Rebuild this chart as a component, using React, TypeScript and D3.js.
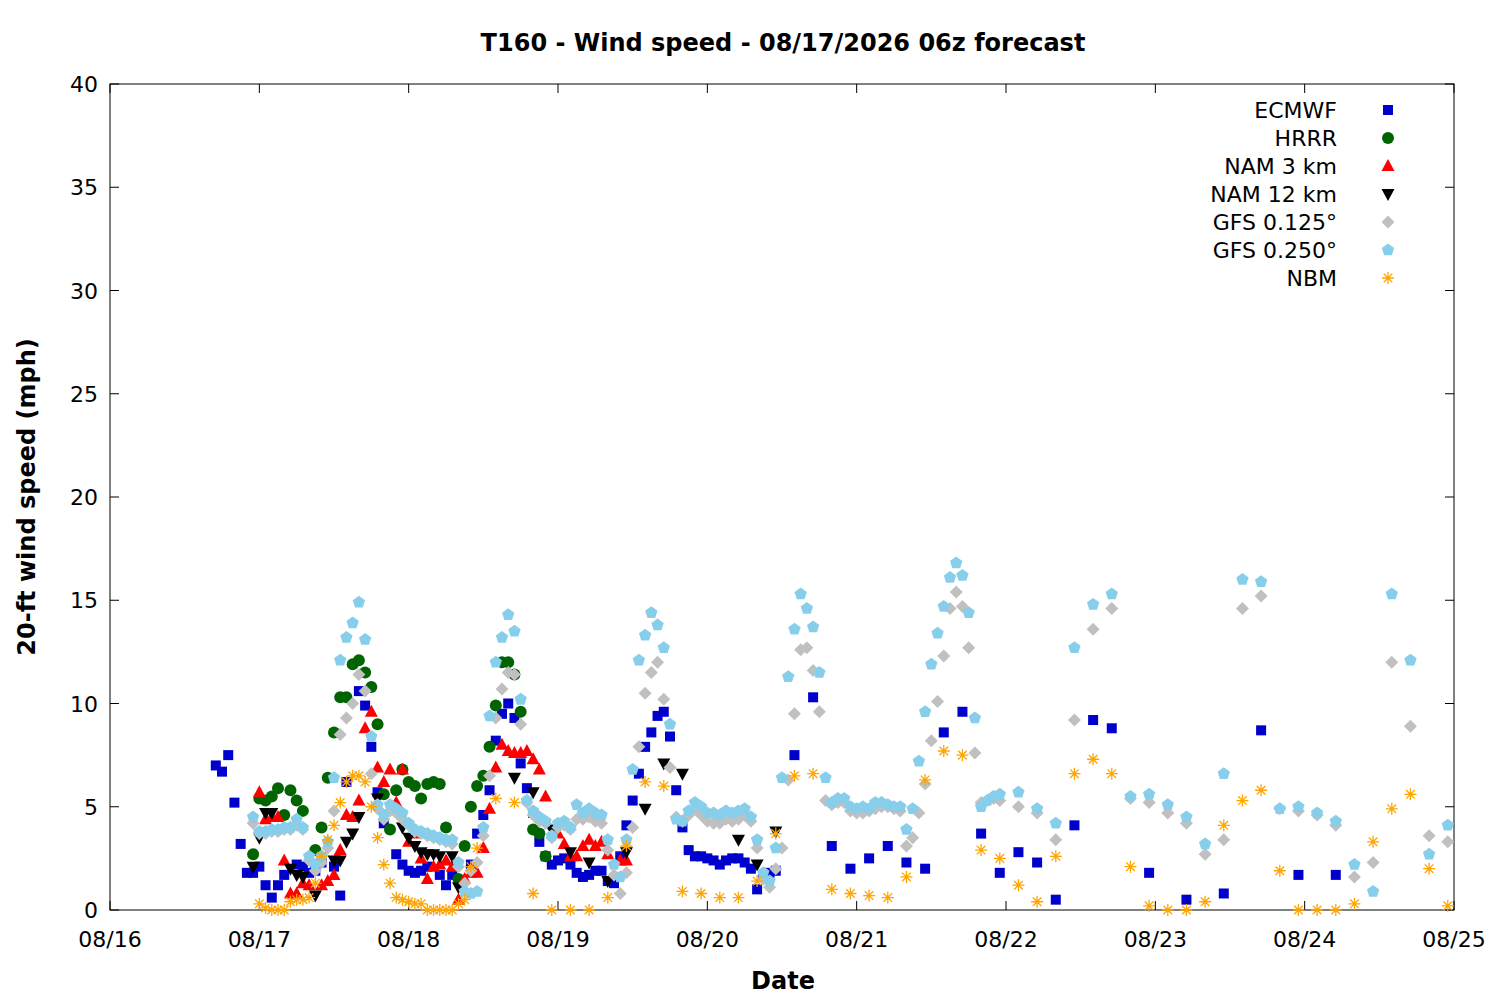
import React, { useEffect, useRef } from 'react';
import * as d3 from 'd3';

// hours since 08/16 00z, wind speed (mph)
const ecmwf: [number, number][] = [
  [17, 7.0], [18, 6.7], [19, 7.5], [20, 5.2], [21, 3.2], [22, 1.8], [23, 1.8], [24, 2.1], [25, 1.2], [26, 0.6],
  [27, 1.2], [28, 1.7], [30, 2.2], [31, 2.1], [32, 1.8], [33, 1.9], [34, 2.3], [36, 2.1], [37, 0.7], [38, 6.2],
  [40, 10.6], [41, 9.9], [42, 7.9], [43, 5.7], [44, 4.2], [46, 2.7], [47, 2.2], [48, 1.9], [49, 1.8], [50, 1.9],
  [51, 2.1], [53, 1.7], [54, 1.2], [55, 1.7], [58, 2.2], [59, 3.7], [60, 4.6], [61, 5.8], [62, 8.2], [63, 9.5],
  [64, 10.0], [65, 9.3], [66, 7.1], [67, 5.9], [68, 4.7], [69, 3.3], [70, 2.6], [71, 2.2], [72, 2.4], [73, 2.5],
  [74, 2.2], [75, 1.8], [76, 1.6], [77, 1.7], [78, 1.9], [79, 1.9], [80, 1.4], [81, 1.3], [82, 2.6], [83, 4.1],
  [84, 5.3], [85, 6.6], [86, 7.9], [87, 8.6], [88, 9.4], [89, 9.6], [90, 8.4], [91, 5.8], [92, 4.0], [93, 2.9],
  [94, 2.6], [95, 2.6], [96, 2.5], [97, 2.4], [98, 2.2], [99, 2.4], [100, 2.5], [101, 2.5], [102, 2.3], [103, 2.0],
  [104, 1.0], [105, 1.7], [106, 1.8], [107, 1.9], [110, 7.5], [113, 10.3], [116, 3.1], [119, 2.0], [122, 2.5],
  [125, 3.1], [128, 2.3], [131, 2.0], [134, 8.6], [137, 9.6], [140, 3.7], [143, 1.8], [146, 2.8], [149, 2.3],
  [152, 0.5], [155, 4.1], [158, 9.2], [161, 8.8], [167, 1.8], [173, 0.5], [179, 0.8], [185, 8.7], [191, 1.7], [197, 1.7],
];

const hrrr: [number, number][] = [
  [23, 2.7], [24, 5.4], [25, 5.3], [26, 5.5], [27, 5.9], [28, 4.6], [29, 5.8], [30, 5.3], [31, 4.8], [33, 2.9],
  [34, 4.0], [35, 6.4], [36, 8.6], [37, 10.3], [38, 10.3], [39, 11.9], [40, 12.1], [41, 11.5], [42, 10.8], [43, 9.0],
  [44, 5.6], [45, 3.9], [46, 5.8], [47, 6.8], [48, 6.2], [49, 6.0], [50, 5.4], [51, 6.1], [52, 6.2], [53, 6.1],
  [54, 4.0], [56, 1.5], [57, 3.1], [58, 5.0], [59, 6.0], [60, 6.5], [61, 7.9], [62, 9.9], [63, 12.0], [64, 12.0],
  [65, 11.4], [66, 9.6], [68, 3.9], [69, 3.7], [70, 2.6],
];

const nam3: [number, number][] = [
  [24, 5.7], [25, 4.4], [26, 4.5], [27, 4.5], [28, 2.4], [29, 0.8], [30, 0.8], [31, 1.3], [32, 1.2], [34, 1.2],
  [35, 1.4], [36, 1.7], [37, 2.9], [38, 4.6], [39, 4.5], [40, 5.3], [41, 8.8], [42, 9.6], [43, 6.9], [44, 6.2],
  [45, 6.8], [46, 5.2], [47, 6.8], [48, 3.3], [49, 3.7], [50, 2.5], [51, 1.5], [52, 2.1], [53, 2.2], [54, 2.4],
  [55, 2.1], [56, 0.5], [57, 1.5], [58, 1.8], [59, 1.8], [60, 3.0], [61, 4.9], [62, 6.9], [63, 8.0], [64, 7.7],
  [65, 7.6], [66, 7.6], [67, 7.7], [68, 7.3], [69, 6.8], [70, 5.5], [72, 3.7], [73, 3.2], [74, 2.6], [75, 2.6],
  [76, 3.1], [77, 3.4], [78, 3.1], [79, 3.3], [80, 2.7], [82, 2.4], [83, 2.4],
];

const nam12: [number, number][] = [
  [23, 2.1], [24, 3.5], [25, 4.7], [26, 4.7], [29, 2.0], [30, 1.7], [31, 1.6], [33, 0.7], [36, 2.4], [37, 2.4],
  [38, 3.3], [39, 3.7], [40, 4.5], [43, 5.4], [44, 4.5], [47, 4.0], [48, 3.5], [49, 3.1], [50, 2.8], [51, 2.7],
  [52, 2.7], [53, 2.6], [55, 2.6], [56, 1.1], [65, 6.4], [68, 5.7], [71, 3.9], [74, 2.8], [77, 2.3], [80, 1.4],
  [83, 2.8], [86, 4.9], [89, 7.1], [92, 6.6], [101, 3.4], [104, 2.2], [107, 3.8],
];

const gfs125: [number, number][] = [
  [23, 4.2], [24, 3.7], [25, 3.7], [26, 3.8], [27, 3.8], [28, 3.9], [29, 3.9], [30, 4.1], [31, 3.9], [32, 2.4],
  [33, 1.9], [34, 2.3], [35, 3.0], [36, 4.8], [37, 8.5], [38, 9.3], [39, 10.0], [40, 11.4], [41, 10.6], [42, 6.6],
  [43, 4.9], [44, 4.4], [45, 4.8], [46, 4.7], [47, 4.4], [48, 4.1], [49, 3.8], [50, 3.7], [51, 3.6], [52, 3.5],
  [53, 3.4], [54, 3.3], [55, 3.2], [56, 2.1], [57, 1.3], [58, 1.9], [59, 2.3], [60, 3.6], [61, 6.5], [62, 9.3],
  [63, 10.7], [64, 11.5], [65, 11.4], [66, 9.0], [67, 5.2], [68, 4.6], [69, 4.3], [70, 4.2], [71, 3.5], [72, 4.0],
  [73, 4.1], [74, 3.9], [75, 4.4], [76, 4.4], [77, 4.5], [78, 4.3], [79, 4.2], [80, 2.9], [81, 1.7], [82, 0.8],
  [83, 1.8], [84, 4.0], [85, 7.9], [86, 10.5], [87, 11.5], [88, 12.0], [89, 10.2], [90, 6.9], [91, 4.5], [92, 4.3],
  [93, 4.6], [94, 4.9], [95, 4.6], [96, 4.3], [97, 4.2], [98, 4.2], [99, 4.4], [100, 4.3], [101, 4.4], [102, 4.6],
  [103, 4.3], [104, 3.0], [105, 1.5], [106, 1.1], [107, 2.0], [108, 3.0], [109, 6.3], [110, 9.5], [111, 12.6],
  [112, 12.7], [113, 11.6], [114, 9.6], [115, 5.3], [116, 5.1], [117, 5.2], [118, 5.2], [119, 4.8], [120, 4.7],
  [121, 4.7], [122, 4.8], [123, 4.9], [124, 5.0], [125, 5.0], [126, 4.9], [127, 4.8], [128, 3.1], [129, 3.5],
  [130, 4.7], [131, 6.1], [132, 8.2], [133, 10.1], [134, 12.3], [135, 14.6], [136, 15.4], [137, 14.7], [138, 12.7],
  [139, 7.6], [140, 5.2], [141, 5.3], [142, 5.4], [143, 5.3], [146, 5.0], [149, 4.7], [152, 3.4], [155, 9.2],
  [158, 13.6], [161, 14.6], [164, 5.4], [167, 5.2], [170, 4.7], [173, 4.2], [176, 2.7], [179, 3.4], [182, 14.6],
  [185, 15.2], [188, 4.9], [191, 4.8], [194, 4.6], [197, 4.1], [200, 1.6], [203, 2.3], [206, 12.0], [209, 8.9],
  [212, 3.6], [215, 3.3],
];

const gfs250: [number, number][] = [
  [23, 4.5], [24, 3.8], [25, 3.8], [26, 3.9], [27, 3.9], [28, 4.0], [29, 4.0], [30, 4.4], [31, 4.0], [32, 2.6],
  [33, 2.2], [34, 2.6], [35, 3.3], [36, 6.4], [37, 12.1], [38, 13.2], [39, 13.9], [40, 14.9], [41, 13.1], [42, 8.4],
  [43, 5.1], [44, 4.6], [45, 5.1], [46, 4.9], [47, 4.7], [48, 4.2], [49, 3.9], [50, 3.8], [51, 3.7], [52, 3.6],
  [53, 3.5], [54, 3.4], [55, 3.4], [56, 2.3], [57, 0.9], [58, 0.8], [59, 0.9], [60, 4.0], [61, 9.4], [62, 12.0],
  [63, 13.2], [64, 14.3], [65, 13.5], [66, 10.2], [67, 5.3], [68, 4.8], [69, 4.5], [70, 4.3], [71, 3.6], [72, 4.2],
  [73, 4.3], [74, 4.0], [75, 5.1], [76, 4.7], [77, 4.9], [78, 4.7], [79, 4.6], [80, 3.4], [81, 2.2], [82, 1.6],
  [83, 3.4], [84, 6.8], [85, 12.1], [86, 13.3], [87, 14.4], [88, 13.8], [89, 12.7], [90, 9.0], [91, 4.4], [92, 4.3],
  [93, 4.8], [94, 5.2], [95, 5.0], [96, 4.7], [97, 4.7], [98, 4.6], [99, 4.8], [100, 4.7], [101, 4.8], [102, 4.9],
  [103, 4.5], [104, 3.4], [105, 1.8], [106, 1.4], [107, 3.0], [108, 6.4], [109, 11.3], [110, 13.6], [111, 15.3],
  [112, 14.6], [113, 13.7], [114, 11.5], [115, 6.4], [116, 5.2], [117, 5.4], [118, 5.4], [119, 5.0], [120, 4.9],
  [121, 5.0], [122, 4.9], [123, 5.2], [124, 5.2], [125, 5.1], [126, 5.0], [127, 5.0], [128, 3.9], [129, 4.9],
  [130, 7.2], [131, 9.6], [132, 11.9], [133, 13.4], [134, 14.7], [135, 16.1], [136, 16.8], [137, 16.2], [138, 14.4],
  [139, 9.3], [140, 5.0], [141, 5.3], [142, 5.5], [143, 5.6], [146, 5.7], [149, 4.9], [152, 4.2], [155, 12.7],
  [158, 14.8], [161, 15.3], [164, 5.5], [167, 5.6], [170, 5.1], [173, 4.5], [176, 3.2], [179, 6.6], [182, 16.0],
  [185, 15.9], [188, 4.9], [191, 5.0], [194, 4.7], [197, 4.3], [200, 2.2], [203, 0.9], [206, 15.3], [209, 12.1],
  [212, 2.7], [215, 4.1],
];

const nbm: [number, number][] = [
  [24, 0.3], [25, 0.1], [26, 0.0], [27, 0.0], [28, 0.0], [29, 0.4], [30, 0.5], [31, 0.5], [32, 0.6], [33, 1.3],
  [34, 2.6], [35, 3.4], [36, 4.1], [37, 5.2], [38, 6.2], [39, 6.5], [40, 6.5], [41, 6.2], [42, 5.0], [43, 3.5],
  [44, 2.2], [45, 1.3], [46, 0.6], [47, 0.5], [48, 0.4], [49, 0.3], [50, 0.3], [51, 0.0], [52, 0.0], [53, 0.0],
  [54, 0.0], [55, 0.0], [56, 0.3], [57, 0.5], [58, 2.1], [59, 3.0], [62, 5.4], [65, 5.2], [68, 0.8], [71, 0.0],
  [74, 0.0], [77, 0.0], [80, 0.6], [83, 3.1], [86, 6.2], [89, 6.0], [92, 0.9], [95, 0.8], [98, 0.6], [101, 0.6],
  [104, 1.4], [107, 3.7], [110, 6.5], [113, 6.6], [116, 1.0], [119, 0.8], [122, 0.7], [125, 0.6], [128, 1.6],
  [131, 6.3], [134, 7.7], [137, 7.5], [140, 2.9], [143, 2.5], [146, 1.2], [149, 0.4], [152, 2.6], [155, 6.6],
  [158, 7.3], [161, 6.6], [164, 2.1], [167, 0.2], [170, 0.0], [173, 0.0], [176, 0.4], [179, 4.1], [182, 5.3],
  [185, 5.8], [188, 1.9], [191, 0.0], [194, 0.0], [197, 0.0], [200, 0.3], [203, 3.3], [206, 4.9], [209, 5.6],
  [212, 2.0], [215, 0.2],
];

const dayLabels = ['08/16', '08/17', '08/18', '08/19', '08/20', '08/21', '08/22', '08/23', '08/24', '08/25'];
const yTicks = [0, 5, 10, 15, 20, 25, 30, 35, 40];

type Kind = 'square' | 'circle' | 'up' | 'down' | 'diamond' | 'pentagon' | 'star';
const seriesList: { name: string; data: [number, number][]; color: string; kind: Kind }[] = [
  { name: 'ECMWF', data: ecmwf, color: '#0000cc', kind: 'square' },
  { name: 'HRRR', data: hrrr, color: '#006400', kind: 'circle' },
  { name: 'NAM 3 km', data: nam3, color: '#ff0000', kind: 'up' },
  { name: 'NAM 12 km', data: nam12, color: '#000000', kind: 'down' },
  { name: 'GFS 0.125°', data: gfs125, color: '#c0c0c0', kind: 'diamond' },
  { name: 'GFS 0.250°', data: gfs250, color: '#87ceeb', kind: 'pentagon' },
  { name: 'NBM', data: nbm, color: '#ffa500', kind: 'star' },
];

function pentagon(r: number) {
  const pts = d3.range(5).map((i) => {
    const a = -Math.PI / 2 + (i * 2 * Math.PI) / 5;
    return [r * Math.cos(a), r * Math.sin(a)];
  });
  return 'M' + pts.map((p) => p.join(',')).join('L') + 'Z';
}

function drawMark(g: d3.Selection<SVGGElement, unknown, null, undefined>, kind: Kind, color: string, x: number, y: number) {
  const t = `translate(${x},${y})`;
  if (kind === 'square') g.append('rect').attr('x', x - 5).attr('y', y - 5).attr('width', 10).attr('height', 10).attr('fill', color);
  else if (kind === 'circle') g.append('circle').attr('cx', x).attr('cy', y).attr('r', 6).attr('fill', color);
  else if (kind === 'up') g.append('path').attr('d', 'M0,-7L6.5,5L-6.5,5Z').attr('transform', t).attr('fill', color);
  else if (kind === 'down') g.append('path').attr('d', 'M0,7L6.5,-5L-6.5,-5Z').attr('transform', t).attr('fill', color);
  else if (kind === 'diamond') g.append('path').attr('d', 'M0,-6.5L6.5,0L0,6.5L-6.5,0Z').attr('transform', t).attr('fill', color);
  else if (kind === 'pentagon') g.append('path').attr('d', pentagon(6.5)).attr('transform', t).attr('fill', color);
  else
    g.append('path')
      .attr('d', 'M-6,0H6M0,-6V6M-4.3,-4.3L4.3,4.3M-4.3,4.3L4.3,-4.3')
      .attr('transform', t)
      .attr('stroke', color)
      .attr('stroke-width', 1.3)
      .attr('fill', 'none');
}

export default function App() {
  const svgRef = useRef<SVGSVGElement | null>(null);

  useEffect(() => {
    if (!svgRef.current) return;
    const svg = d3.select(svgRef.current);
    svg.selectAll('*').remove();

    const left = 110, right = 1454, top = 84, bottom = 910;
    const x = d3.scaleLinear().domain([0, 216]).range([left, right]);
    const y = d3.scaleLinear().domain([0, 40]).range([bottom, top]);
    const font = 'DejaVu Sans, sans-serif';

    svg.append('rect').attr('width', 1500).attr('height', 1000).attr('fill', '#fff');

    const axes = svg.append('g').attr('stroke', '#000').attr('stroke-width', 1);
    yTicks.forEach((v) => {
      axes.append('line').attr('x1', left).attr('x2', left + 9).attr('y1', y(v)).attr('y2', y(v));
      axes.append('line').attr('x1', right).attr('x2', right - 9).attr('y1', y(v)).attr('y2', y(v));
      svg.append('text').attr('x', left - 12).attr('y', y(v) + 8).attr('text-anchor', 'end')
        .attr('font-family', font).attr('font-size', 22).text(v);
    });
    dayLabels.forEach((lab, i) => {
      const px = x(i * 24);
      axes.append('line').attr('x1', px).attr('x2', px).attr('y1', bottom).attr('y2', bottom - 9);
      axes.append('line').attr('x1', px).attr('x2', px).attr('y1', top).attr('y2', top + 9);
      svg.append('text').attr('x', px).attr('y', 947).attr('text-anchor', 'middle')
        .attr('font-family', font).attr('font-size', 22).text(lab);
    });
    svg.append('rect').attr('x', left).attr('y', top).attr('width', right - left).attr('height', bottom - top)
      .attr('fill', 'none').attr('stroke', '#000').attr('stroke-width', 1);

    svg.append('text').attr('x', 783).attr('y', 51).attr('text-anchor', 'middle').attr('font-family', font)
      .attr('font-weight', 'bold').attr('font-size', 24).text('T160 - Wind speed - 08/17/2026 06z forecast');
    svg.append('text').attr('x', 783).attr('y', 989).attr('text-anchor', 'middle').attr('font-family', font)
      .attr('font-weight', 'bold').attr('font-size', 24).text('Date');
    svg.append('text').attr('transform', 'translate(35,497) rotate(-90)').attr('text-anchor', 'middle')
      .attr('font-family', font).attr('font-weight', 'bold').attr('font-size', 24).text('20-ft wind speed (mph)');

    const marks = svg.append('g');
    seriesList.forEach((s) => {
      s.data.forEach(([h, v]) => drawMark(marks, s.kind, s.color, x(h), y(v)));
    });

    const leg = svg.append('g');
    seriesList.forEach((s, i) => {
      const ly = 110 + i * 28;
      leg.append('text').attr('x', 1337).attr('y', ly + 8).attr('text-anchor', 'end')
        .attr('font-family', font).attr('font-size', 22).text(s.name);
      drawMark(leg, s.kind, s.color, 1388, ly);
    });
  }, []);

  return (
    <svg ref={svgRef} width={1500} height={1000} style={{ position: 'absolute', left: 0, top: 0 }} />
  );
}
